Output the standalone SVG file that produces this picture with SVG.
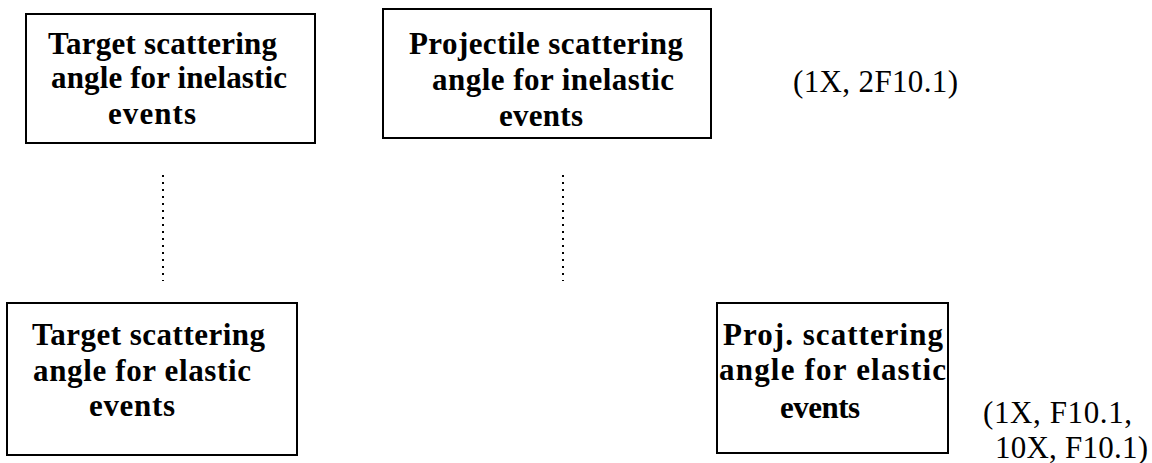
<svg xmlns="http://www.w3.org/2000/svg" width="1152" height="463" viewBox="0 0 1152 463">
<style>
.box{fill:#fff;stroke:#000;stroke-width:2}
.t{font-family:"Liberation Serif","Times New Roman",serif;font-weight:bold;font-size:31px;fill:#000}
.f{font-family:"Liberation Serif","Times New Roman",serif;font-size:31px;fill:#000}
.dot{stroke:#000;stroke-width:2;stroke-dasharray:2 5;fill:none}
</style>
<rect width="1152" height="463" fill="#fff"/>
<g id="connectors">
<line class="dot" x1="163" y1="175" x2="163" y2="281"/>
<line class="dot" x1="563" y1="175" x2="563" y2="281"/>
</g>
<g id="target-inelastic">
<rect class="box" x="26" y="14" width="289" height="129"/>
<text class="t" x="48" y="54" textLength="229" lengthAdjust="spacing">Target scattering</text>
<text class="t" x="51" y="88" textLength="236" lengthAdjust="spacing">angle for inelastic</text>
<text class="t" x="108" y="124" textLength="88" lengthAdjust="spacing">events</text>
</g>
<g id="projectile-inelastic">
<rect class="box" x="383" y="9" width="328" height="129"/>
<text class="t" x="409" y="54" textLength="274" lengthAdjust="spacing">Projectile scattering</text>
<text class="t" x="432" y="90" textLength="242" lengthAdjust="spacing">angle for inelastic</text>
<text class="t" x="499" y="126" textLength="84" lengthAdjust="spacing">events</text>
</g>
<g id="target-elastic">
<rect class="box" x="7" y="303" width="290" height="152"/>
<text class="t" x="32" y="345" textLength="233" lengthAdjust="spacing">Target scattering</text>
<text class="t" x="33" y="381" textLength="218" lengthAdjust="spacing">angle for elastic</text>
<text class="t" x="89" y="416" textLength="86" lengthAdjust="spacing">events</text>
</g>
<g id="proj-elastic">
<rect class="box" x="717" y="303" width="231" height="150"/>
<text class="t" x="723" y="345" textLength="220" lengthAdjust="spacing">Proj. scattering</text>
<text class="t" x="719" y="380" textLength="227" lengthAdjust="spacing">angle for elastic</text>
<text class="t" x="780" y="418" textLength="80" lengthAdjust="spacing">events</text>
</g>
<g id="labels">
<text class="f" x="793" y="92" textLength="165" lengthAdjust="spacing">(1X, 2F10.1)</text>
<text class="f" x="983" y="423" textLength="149" lengthAdjust="spacing">(1X, F10.1,</text>
<text class="f" x="995" y="458" textLength="153" lengthAdjust="spacing">10X, F10.1)</text>
</g>
</svg>
